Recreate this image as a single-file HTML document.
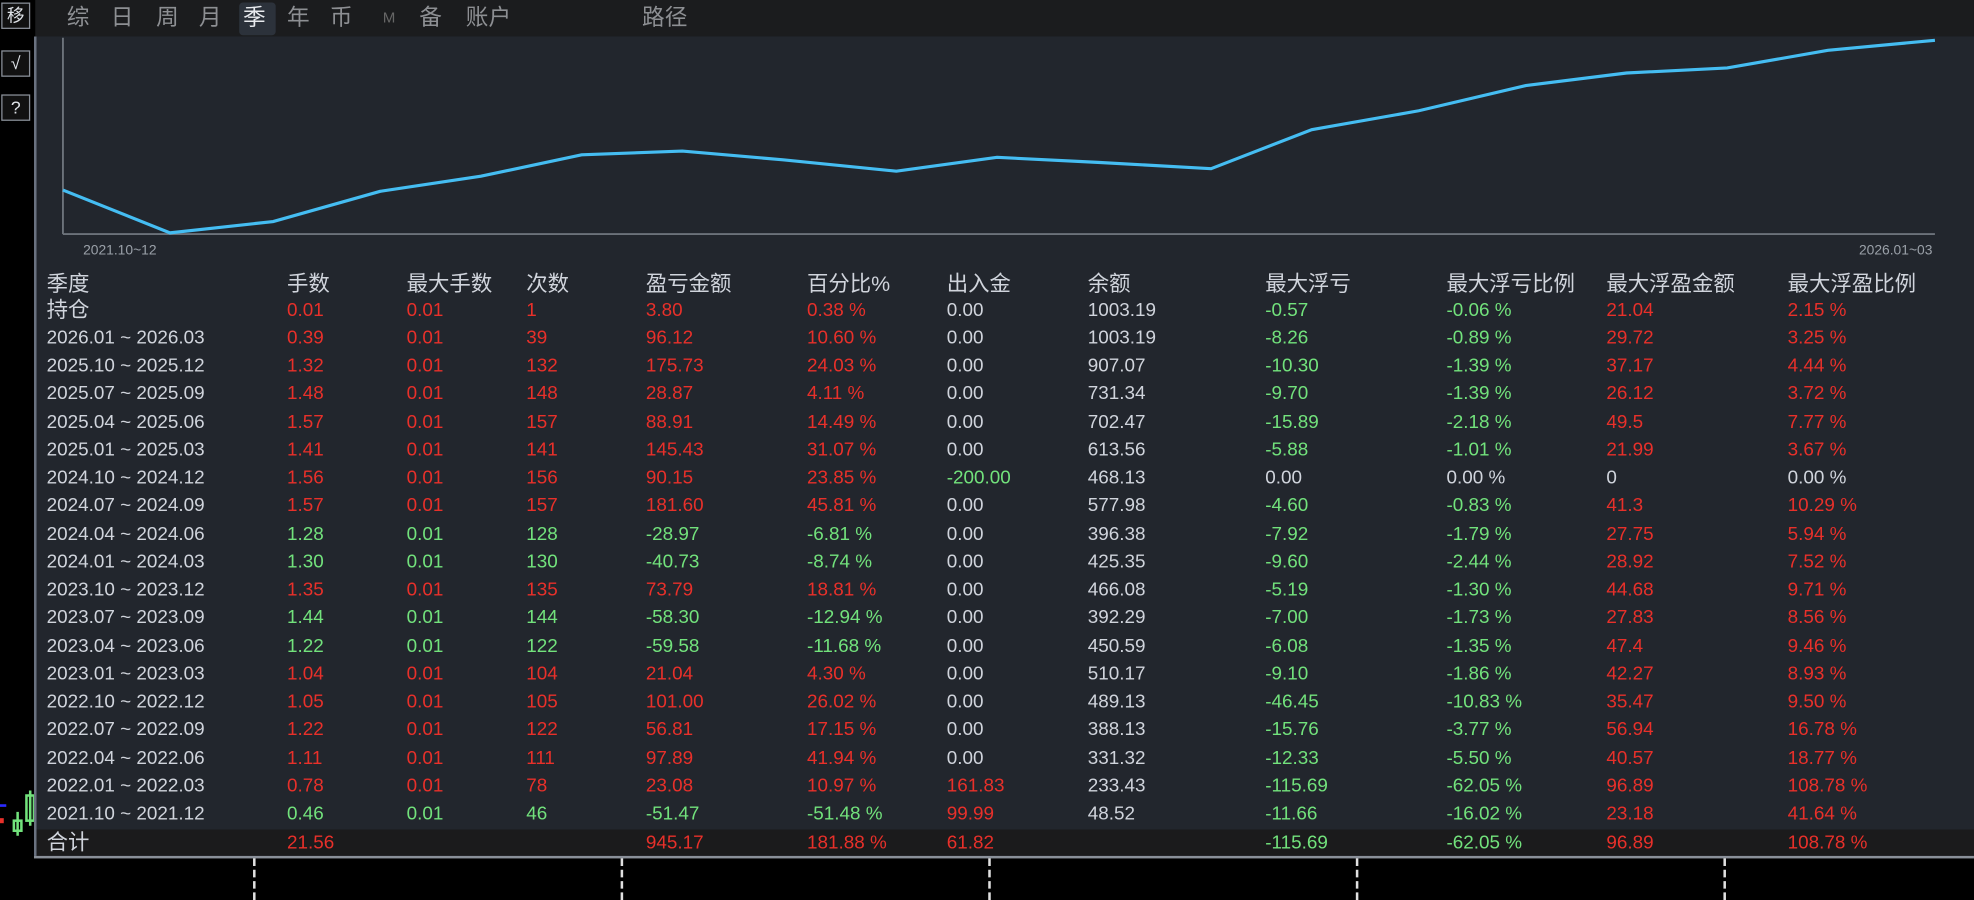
<!DOCTYPE html>
<html><head><meta charset="utf-8"><style>
html,body{margin:0;padding:0;background:#000;width:1974px;height:900px;overflow:hidden}
#w{position:absolute;left:0;top:0;width:1568px;height:715px;transform:scale(1.2589,1.2587);transform-origin:0 0;font-family:"Liberation Sans","Noto Sans CJK SC",sans-serif}
.ic{position:absolute;left:1px;width:21px;height:19px;border:1px solid #8a9099;color:#dfe3e8;font-size:14px;line-height:19px;text-align:center;background:#111}
#top{position:absolute;left:28px;top:0;width:1540px;height:29px;background:#1b1c1e}
.tb{position:absolute;top:3px;font-size:18px;color:#8d8f93;line-height:22px}
#pan{position:absolute;left:27px;top:29px;width:1541px;height:651px;background:#22262d;border-left:2px solid #6a7280}
.r{position:absolute;left:0;width:1541px;height:22px;font-size:15px;line-height:22px}
.r span{position:absolute;white-space:nowrap}
.a{left:8px;color:#d0d4dc}.b{left:199px}.c{left:294px}.d{left:389px}.e{left:484px}.f{left:612px}.g{left:723px}.h{left:835px}.i{left:976px}.j{left:1120px}.k{left:1247px}.l{left:1391px}
.R{color:#e8302a}.G{color:#72e27c}.W{color:#d0d4dc}
.hd{font-size:17px;color:#d0d4dc}
.dl{position:absolute;top:682px;width:0;height:33px;border-left:2px dashed #e0e0e0}
</style></head><body><div id="w">
<div class="ic" style="top:2px">移</div>
<div class="ic" style="top:40px">√</div>
<div class="ic" style="top:75px">?</div>
<svg style="position:absolute;left:0;top:600px" width="27" height="70">
<line x1="0" y1="40" x2="5" y2="40" stroke="#2a2aff" stroke-width="2"/>
<rect x="0" y="50" width="3" height="4" fill="#e8302a"/>
<line x1="14" y1="45" x2="14" y2="64" stroke="#72e27c" stroke-width="2"/>
<rect x="11" y="52" width="6" height="8" fill="none" stroke="#72e27c" stroke-width="2"/>
<line x1="24" y1="28" x2="24" y2="56" stroke="#72e27c" stroke-width="2"/>
<rect x="21" y="32" width="6" height="20" fill="none" stroke="#72e27c" stroke-width="2"/>
</svg>
<div id="top">
<div style="position:absolute;left:162px;top:2px;width:29px;height:26px;background:#2c323b;border-radius:3px"></div>
<span class="tb" style="left:25px">综</span><span class="tb" style="left:60px">日</span><span class="tb" style="left:96px">周</span><span class="tb" style="left:130px">月</span><span class="tb" style="left:165px;color:#e8eaee">季</span><span class="tb" style="left:200px">年</span><span class="tb" style="left:234px">币</span><span class="tb" style="left:276px;font-size:12px;color:#666">M</span><span class="tb" style="left:305px">备</span><span class="tb" style="left:342px">账户</span><span class="tb" style="left:482px">路径</span>
</div>
<div id="pan">
<svg style="position:absolute;left:0;top:0" width="1541" height="180">
<line x1="21" y1="1" x2="21" y2="157" stroke="#6c727a" stroke-width="1.5"/>
<line x1="21" y1="157" x2="1508" y2="157" stroke="#6c727a" stroke-width="1.5"/>
<polyline fill="none" stroke="#45bdf2" stroke-width="2.5" points="21,122 106,156 188,147 273,123 353,111 433,94 513,91 593,98 683,107 763,96 843,100 933,105 1013,74 1098,59 1183,39 1263,29 1343,25 1423,11 1508,3"/>
<text x="37" y="173" font-size="11" fill="#9aa0a8" font-family="Liberation Sans">2021.10~12</text>
<text x="1506" y="173" font-size="11" fill="#9aa0a8" text-anchor="end" font-family="Liberation Sans">2026.01~03</text>
</svg>
<div class="r hd" style="top:186px"><span class="a">季度</span><span class="b">手数</span><span class="c">最大手数</span><span class="d">次数</span><span class="e">盈亏金额</span><span class="f">百分比%</span><span class="g">出入金</span><span class="h">余额</span><span class="i">最大浮亏</span><span class="j">最大浮亏比例</span><span class="k">最大浮盈金额</span><span class="l">最大浮盈比例</span></div>
<div class="r" style="top:207px"><span class="a hd">持仓</span><span class="b R">0.01</span><span class="c R">0.01</span><span class="d R">1</span><span class="e R">3.80</span><span class="f R">0.38 %</span><span class="g W">0.00</span><span class="h W">1003.19</span><span class="i G">-0.57</span><span class="j G">-0.06 %</span><span class="k R">21.04</span><span class="l R">2.15 %</span></div>
<div class="r" style="top:229px"><span class="a">2026.01 ~ 2026.03</span><span class="b R">0.39</span><span class="c R">0.01</span><span class="d R">39</span><span class="e R">96.12</span><span class="f R">10.60 %</span><span class="g W">0.00</span><span class="h W">1003.19</span><span class="i G">-8.26</span><span class="j G">-0.89 %</span><span class="k R">29.72</span><span class="l R">3.25 %</span></div>
<div class="r" style="top:251px"><span class="a">2025.10 ~ 2025.12</span><span class="b R">1.32</span><span class="c R">0.01</span><span class="d R">132</span><span class="e R">175.73</span><span class="f R">24.03 %</span><span class="g W">0.00</span><span class="h W">907.07</span><span class="i G">-10.30</span><span class="j G">-1.39 %</span><span class="k R">37.17</span><span class="l R">4.44 %</span></div>
<div class="r" style="top:273px"><span class="a">2025.07 ~ 2025.09</span><span class="b R">1.48</span><span class="c R">0.01</span><span class="d R">148</span><span class="e R">28.87</span><span class="f R">4.11 %</span><span class="g W">0.00</span><span class="h W">731.34</span><span class="i G">-9.70</span><span class="j G">-1.39 %</span><span class="k R">26.12</span><span class="l R">3.72 %</span></div>
<div class="r" style="top:296px"><span class="a">2025.04 ~ 2025.06</span><span class="b R">1.57</span><span class="c R">0.01</span><span class="d R">157</span><span class="e R">88.91</span><span class="f R">14.49 %</span><span class="g W">0.00</span><span class="h W">702.47</span><span class="i G">-15.89</span><span class="j G">-2.18 %</span><span class="k R">49.5</span><span class="l R">7.77 %</span></div>
<div class="r" style="top:318px"><span class="a">2025.01 ~ 2025.03</span><span class="b R">1.41</span><span class="c R">0.01</span><span class="d R">141</span><span class="e R">145.43</span><span class="f R">31.07 %</span><span class="g W">0.00</span><span class="h W">613.56</span><span class="i G">-5.88</span><span class="j G">-1.01 %</span><span class="k R">21.99</span><span class="l R">3.67 %</span></div>
<div class="r" style="top:340px"><span class="a">2024.10 ~ 2024.12</span><span class="b R">1.56</span><span class="c R">0.01</span><span class="d R">156</span><span class="e R">90.15</span><span class="f R">23.85 %</span><span class="g G">-200.00</span><span class="h W">468.13</span><span class="i W">0.00</span><span class="j W">0.00 %</span><span class="k W">0</span><span class="l W">0.00 %</span></div>
<div class="r" style="top:362px"><span class="a">2024.07 ~ 2024.09</span><span class="b R">1.57</span><span class="c R">0.01</span><span class="d R">157</span><span class="e R">181.60</span><span class="f R">45.81 %</span><span class="g W">0.00</span><span class="h W">577.98</span><span class="i G">-4.60</span><span class="j G">-0.83 %</span><span class="k R">41.3</span><span class="l R">10.29 %</span></div>
<div class="r" style="top:385px"><span class="a">2024.04 ~ 2024.06</span><span class="b G">1.28</span><span class="c G">0.01</span><span class="d G">128</span><span class="e G">-28.97</span><span class="f G">-6.81 %</span><span class="g W">0.00</span><span class="h W">396.38</span><span class="i G">-7.92</span><span class="j G">-1.79 %</span><span class="k R">27.75</span><span class="l R">5.94 %</span></div>
<div class="r" style="top:407px"><span class="a">2024.01 ~ 2024.03</span><span class="b G">1.30</span><span class="c G">0.01</span><span class="d G">130</span><span class="e G">-40.73</span><span class="f G">-8.74 %</span><span class="g W">0.00</span><span class="h W">425.35</span><span class="i G">-9.60</span><span class="j G">-2.44 %</span><span class="k R">28.92</span><span class="l R">7.52 %</span></div>
<div class="r" style="top:429px"><span class="a">2023.10 ~ 2023.12</span><span class="b R">1.35</span><span class="c R">0.01</span><span class="d R">135</span><span class="e R">73.79</span><span class="f R">18.81 %</span><span class="g W">0.00</span><span class="h W">466.08</span><span class="i G">-5.19</span><span class="j G">-1.30 %</span><span class="k R">44.68</span><span class="l R">9.71 %</span></div>
<div class="r" style="top:451px"><span class="a">2023.07 ~ 2023.09</span><span class="b G">1.44</span><span class="c G">0.01</span><span class="d G">144</span><span class="e G">-58.30</span><span class="f G">-12.94 %</span><span class="g W">0.00</span><span class="h W">392.29</span><span class="i G">-7.00</span><span class="j G">-1.73 %</span><span class="k R">27.83</span><span class="l R">8.56 %</span></div>
<div class="r" style="top:474px"><span class="a">2023.04 ~ 2023.06</span><span class="b G">1.22</span><span class="c G">0.01</span><span class="d G">122</span><span class="e G">-59.58</span><span class="f G">-11.68 %</span><span class="g W">0.00</span><span class="h W">450.59</span><span class="i G">-6.08</span><span class="j G">-1.35 %</span><span class="k R">47.4</span><span class="l R">9.46 %</span></div>
<div class="r" style="top:496px"><span class="a">2023.01 ~ 2023.03</span><span class="b R">1.04</span><span class="c R">0.01</span><span class="d R">104</span><span class="e R">21.04</span><span class="f R">4.30 %</span><span class="g W">0.00</span><span class="h W">510.17</span><span class="i G">-9.10</span><span class="j G">-1.86 %</span><span class="k R">42.27</span><span class="l R">8.93 %</span></div>
<div class="r" style="top:518px"><span class="a">2022.10 ~ 2022.12</span><span class="b R">1.05</span><span class="c R">0.01</span><span class="d R">105</span><span class="e R">101.00</span><span class="f R">26.02 %</span><span class="g W">0.00</span><span class="h W">489.13</span><span class="i G">-46.45</span><span class="j G">-10.83 %</span><span class="k R">35.47</span><span class="l R">9.50 %</span></div>
<div class="r" style="top:540px"><span class="a">2022.07 ~ 2022.09</span><span class="b R">1.22</span><span class="c R">0.01</span><span class="d R">122</span><span class="e R">56.81</span><span class="f R">17.15 %</span><span class="g W">0.00</span><span class="h W">388.13</span><span class="i G">-15.76</span><span class="j G">-3.77 %</span><span class="k R">56.94</span><span class="l R">16.78 %</span></div>
<div class="r" style="top:563px"><span class="a">2022.04 ~ 2022.06</span><span class="b R">1.11</span><span class="c R">0.01</span><span class="d R">111</span><span class="e R">97.89</span><span class="f R">41.94 %</span><span class="g W">0.00</span><span class="h W">331.32</span><span class="i G">-12.33</span><span class="j G">-5.50 %</span><span class="k R">40.57</span><span class="l R">18.77 %</span></div>
<div class="r" style="top:585px"><span class="a">2022.01 ~ 2022.03</span><span class="b R">0.78</span><span class="c R">0.01</span><span class="d R">78</span><span class="e R">23.08</span><span class="f R">10.97 %</span><span class="g R">161.83</span><span class="h W">233.43</span><span class="i G">-115.69</span><span class="j G">-62.05 %</span><span class="k R">96.89</span><span class="l R">108.78 %</span></div>
<div class="r" style="top:607px"><span class="a">2021.10 ~ 2021.12</span><span class="b G">0.46</span><span class="c G">0.01</span><span class="d G">46</span><span class="e G">-51.47</span><span class="f G">-51.48 %</span><span class="g R">99.99</span><span class="h W">48.52</span><span class="i G">-11.66</span><span class="j G">-16.02 %</span><span class="k R">23.18</span><span class="l R">41.64 %</span></div>
<div class="r" style="top:630px;height:21px;background:#1b1b1c"><span class="a hd">合计</span><span class="b R">21.56</span><span class="e R">945.17</span><span class="f R">181.88 %</span><span class="g R">61.82</span><span class="i G">-115.69</span><span class="j G">-62.05 %</span><span class="k R">96.89</span><span class="l R">108.78 %</span></div>
</div>
<div style="position:absolute;left:27px;top:680px;width:1541px;height:2px;background:#8a9099"></div>
<div class="dl" style="left:201px"></div><div class="dl" style="left:493px"></div><div class="dl" style="left:785px"></div><div class="dl" style="left:1077px"></div><div class="dl" style="left:1369px"></div>
</div></body></html>
